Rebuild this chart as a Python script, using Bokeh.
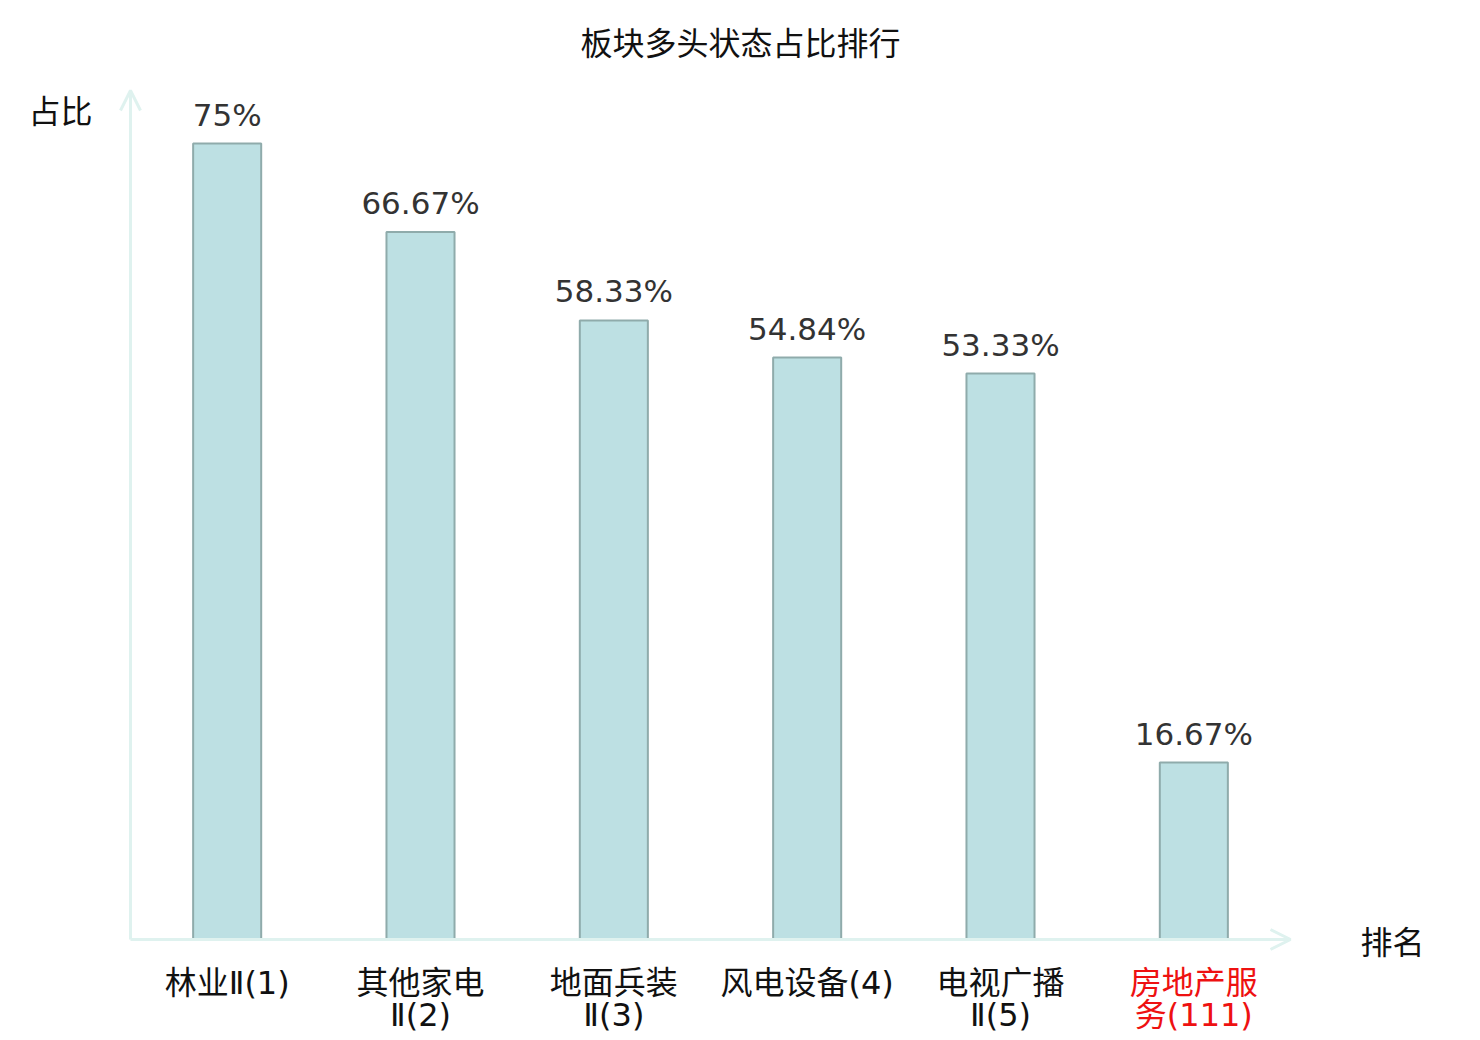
from bokeh.plotting import figure
from bokeh.models import ColumnDataSource, LabelSet, Label, Arrow, OpenHead, Range1d
from bokeh.core.properties import value
from bokeh.embed import file_html
from bokeh.resources import INLINE

title_text = "板块多头状态占比排行"
categories = ["林业Ⅱ(1)", "其他家电\nⅡ(2)", "地面兵装\nⅡ(3)", "风电设备(4)", "电视广播\nⅡ(5)", "房地产服\n务(111)"]
values = [75.0, 66.67, 58.33, 54.84, 53.33, 16.67]
value_labels = ["75%", "66.67%", "58.33%", "54.84%", "53.33%", "16.67%"]
label_colors = ["#111111", "#111111", "#111111", "#111111", "#111111", "#ee1111"]
y_title = "占比"
x_title = "排名"
y_max = 80

CJK = "Noto Sans CJK SC"
CAT_FONT = "DejaVu Sans ExtraLight, DejaVu Sans, Noto Sans CJK SC"
AXIS_COLOR = "#dff2ef"

# page layout (pixels)
W, H = 1480, 1040
TOP = 70                      # frame top (title area above)
AX_LEFT, AX_RIGHT = 130, 1290  # x axis extent
AX_TOP, AX_BOTTOM = 90, 939    # y axis extent

n = len(categories)
xs = [i + 0.5 for i in range(n)]
parts = [c.split("\n") for c in categories]
line1 = [pp[0] for pp in parts]
line2 = [pp[1] if len(pp) > 1 else "" for pp in parts]

kx = (AX_RIGHT - AX_LEFT) / n
ky = (AX_BOTTOM - AX_TOP) / y_max
x_range = Range1d(-AX_LEFT / kx, n + (W - AX_RIGHT) / kx)
y_range = Range1d(-(H - AX_BOTTOM) / ky, y_max + (AX_TOP - TOP) / ky)

src = ColumnDataSource(dict(x=xs, top=values, l1=line1, l2=line2, vl=value_labels, col=label_colors,
                            zero=[0] * n))

p = figure(width=W, height=H, output_backend="svg", toolbar_location=None,
           x_range=x_range, y_range=y_range,
           x_axis_type=None, y_axis_type=None,
           min_border_left=0, min_border_right=0, min_border_top=TOP, min_border_bottom=0)
p.outline_line_color = None
p.xgrid.visible = False
p.ygrid.visible = False
p.background_fill_color = "white"

p.title.text = title_text
p.title.align = "center"
p.title.text_font = CJK
p.title.text_font_size = "32px"
p.title.text_font_style = "normal"
p.title.text_color = "#111111"
p.title.standoff = 14

p.vbar(x="x", top="top", width=0.352, source=src, fill_color="#bde0e3",
       line_color="#8fabab", line_width=2)

# axes arrows
p.add_layout(Arrow(end=OpenHead(size=20, line_color=AXIS_COLOR, line_width=3),
                   x_start=0, y_start=0, x_end=n, y_end=0,
                   line_color=AXIS_COLOR, line_width=3))
p.add_layout(Arrow(end=OpenHead(size=20, line_color=AXIS_COLOR, line_width=3),
                   x_start=0, y_start=0, x_end=0, y_end=y_max,
                   line_color=AXIS_COLOR, line_width=3))

# value labels
p.add_layout(LabelSet(x="x", y="top", text="vl", source=src, y_offset=18,
                      text_align="center", text_baseline="alphabetic",
                      text_font=value("DejaVu Sans"), text_font_size=value("31px"),
                      text_color=value("#333333")))

# category labels (two lines)
p.add_layout(LabelSet(x="x", y="zero", text="l1", source=src, y_offset=-43,
                      text_align="center", text_baseline="middle", text_color="col",
                      text_font=value(CAT_FONT), text_font_size=value("32px")))
p.add_layout(LabelSet(x="x", y="zero", text="l2", source=src, y_offset=-75,
                      text_align="center", text_baseline="middle", text_color="col",
                      text_font=value(CAT_FONT), text_font_size=value("32px")))

p.add_layout(Label(x=0, y=y_max, text=y_title, x_offset=-38, y_offset=-18,
                   text_align="right", text_baseline="middle",
                   text_font=CJK, text_font_size="32px", text_color="#111111"))
p.add_layout(Label(x=n, y=0, text=x_title, x_offset=70, y_offset=0,
                   text_align="left", text_baseline="middle",
                   text_font=CJK, text_font_size="32px", text_color="#111111"))

open("out.html", "w").write(file_html(p, INLINE))
